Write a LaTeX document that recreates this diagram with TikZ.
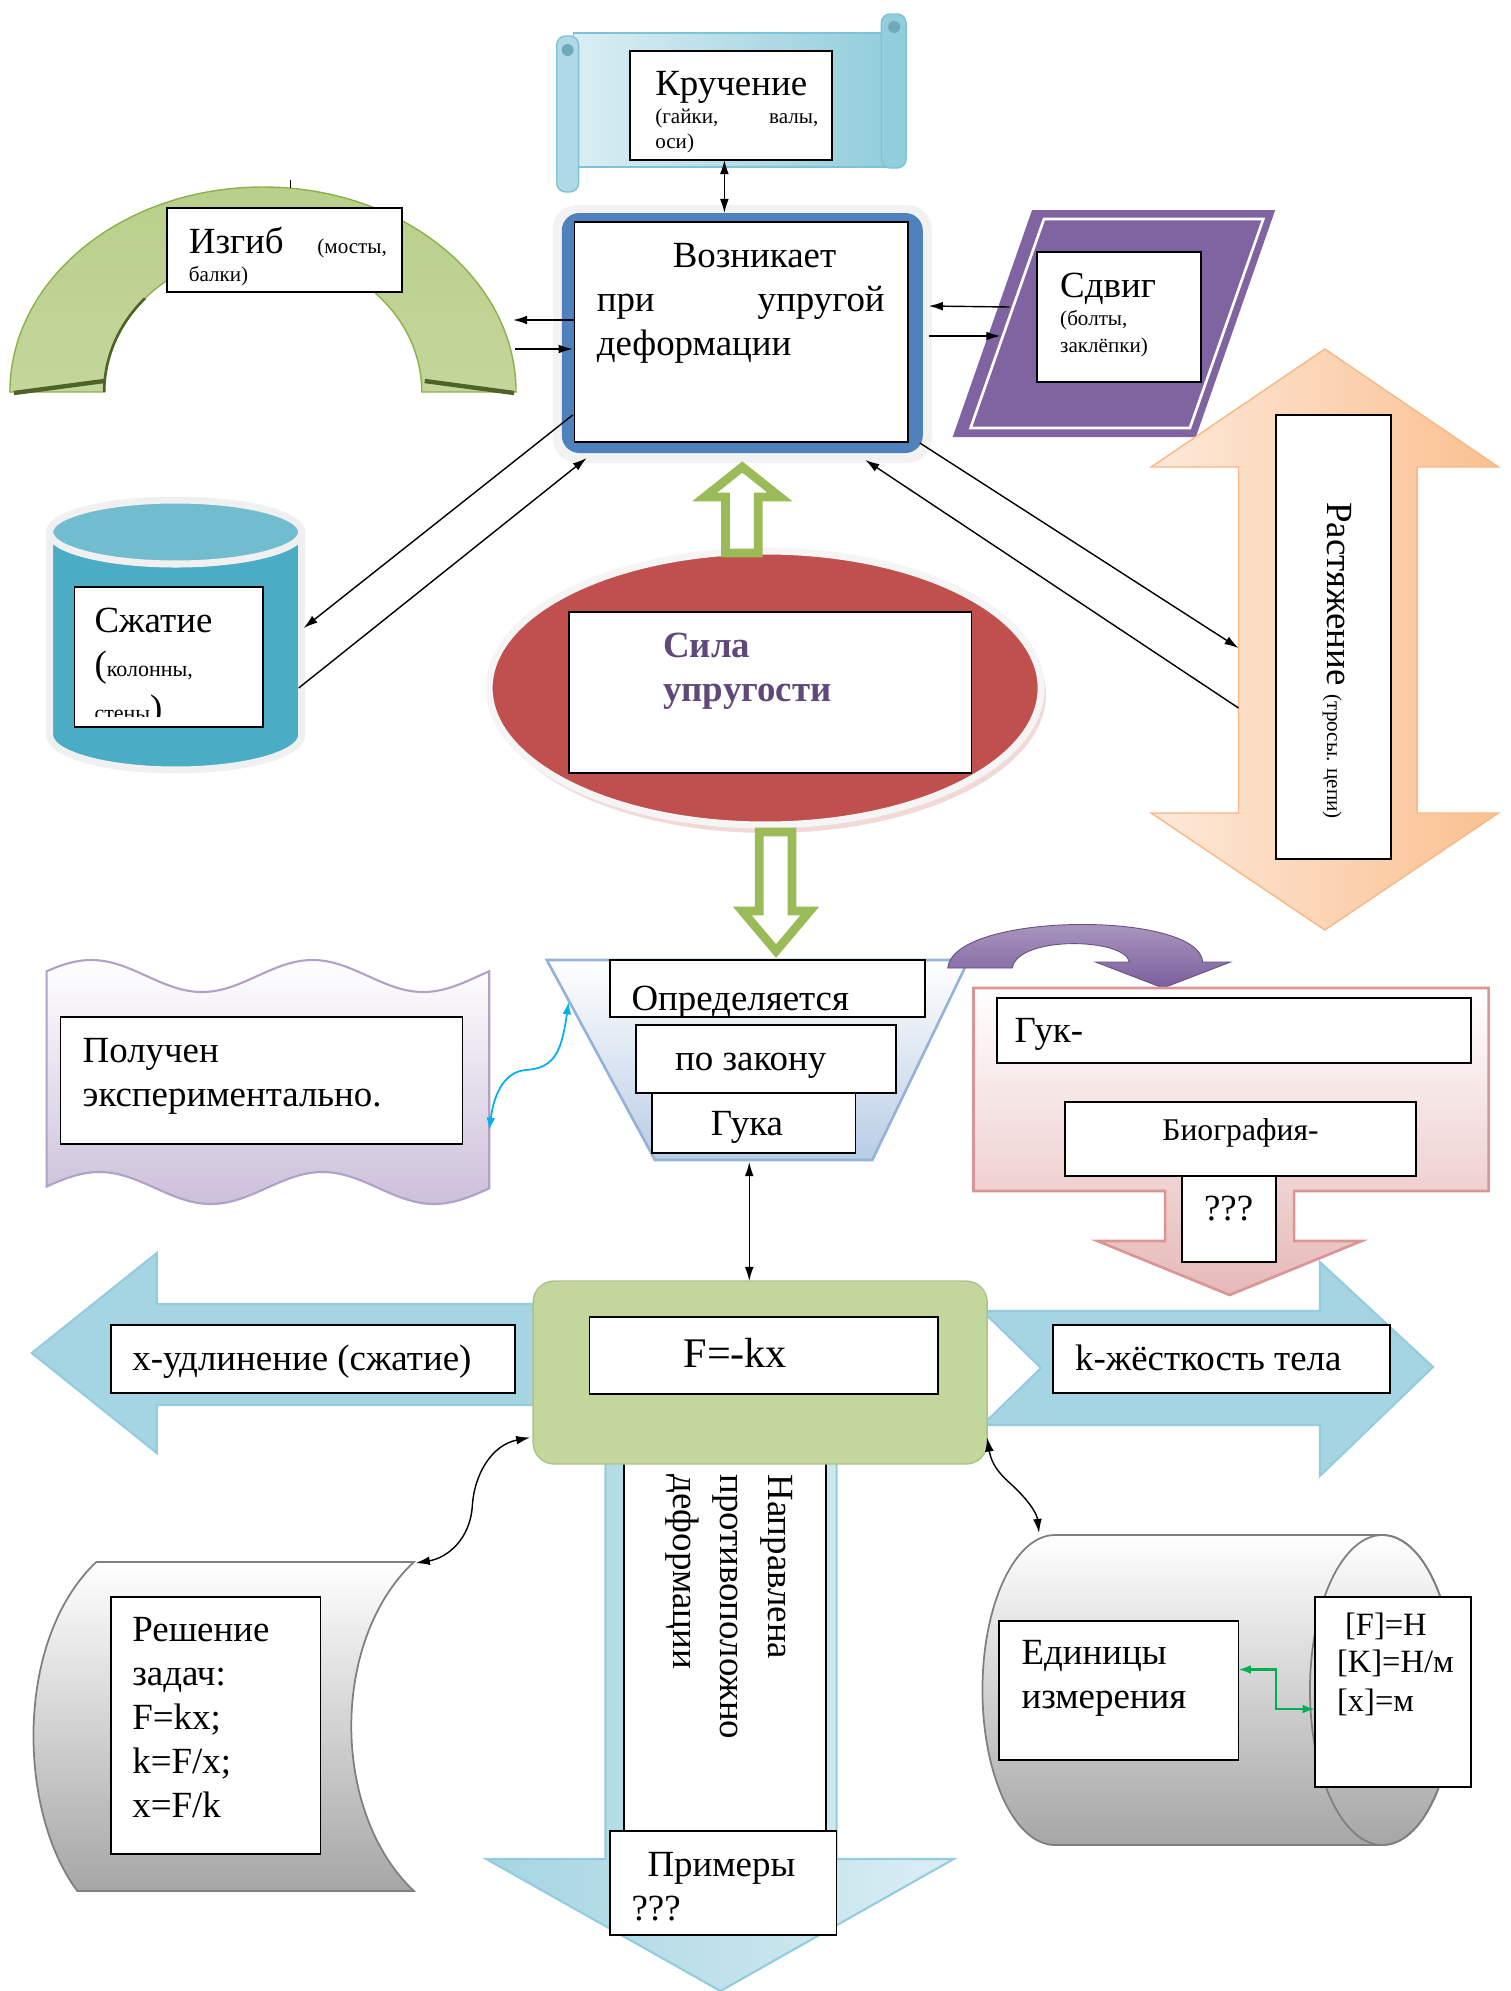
\documentclass[tikz,border=0pt]{standalone}
\usepackage{fontspec}
\setmainfont{Liberation Serif}
\usetikzlibrary{arrows.meta,calc,shapes.geometric}
\definecolor{scrA}{HTML}{DAEEF3}
\definecolor{scrB}{HTML}{92CDDC}
\definecolor{scrC}{HTML}{31859C}
\definecolor{scrE}{HTML}{7FC3D6}
\definecolor{mainblue}{HTML}{4F81BD}
\definecolor{archB}{HTML}{9BBB59}
\definecolor{archD}{HTML}{4F6228}
\definecolor{archE}{HTML}{8EB04C}
\definecolor{purp}{HTML}{8064A2}
\definecolor{purpA}{HTML}{B3A2C7}
\definecolor{purpB}{HTML}{7A5F9C}
\definecolor{peachA}{HTML}{FDE9D9}
\definecolor{peachB}{HTML}{FAC090}
\definecolor{peachE}{HTML}{F8B784}
\definecolor{cylA}{HTML}{4BACC6}
\definecolor{cylT}{HTML}{72BCD0}
\definecolor{ellred}{HTML}{C0504D}
\definecolor{silaC}{HTML}{5F497A}
\definecolor{arrG}{HTML}{9BBB59}
\definecolor{trapB}{HTML}{B9CDE5}
\definecolor{trapE}{HTML}{95B3D7}
\definecolor{wavB}{HTML}{CCC0DA}
\definecolor{wavE}{HTML}{B2A1C7}
\definecolor{pinkB}{HTML}{E6B9B8}
\definecolor{pinkE}{HTML}{D99694}
\definecolor{lblueA}{HTML}{DBEEF4}
\definecolor{lblueB}{HTML}{A5D5E2}
\definecolor{lblueE}{HTML}{93CDDD}
\definecolor{fgreenA}{HTML}{EBF1DE}
\definecolor{fgreenB}{HTML}{C3D69B}
\definecolor{grayB}{HTML}{A6A6A6}
\definecolor{grayE}{HTML}{7F7F7F}
\definecolor{cyanarr}{HTML}{00B0F0}
\definecolor{greenarr}{HTML}{00B050}
\newcommand\bfnt{\fontsize{21}{25}\selectfont}
\newcommand\sfnt{\fontsize{12}{14}\selectfont}
\newcommand\tbox[5]{\node[tbox, minimum width={(#4-#2)*0.019851cm}, minimum height={(#5-#3)*0.02cm}] (#1) at ({(#2+#4)/2},{(#3+#5)/2}) {};}
\begin{document}
\begin{tikzpicture}[x=0.019851cm, y=-0.02cm,
  tbox/.style={draw=black, fill=white, line width=1pt, inner sep=0pt, outer sep=0pt, rectangle},
  txt/.style={inner sep=0pt, align=left, font=\bfnt},
  ltxt/.style={inner sep=0pt, font=\bfnt},
  conn/.style={line width=0.8pt, -{Latex[length=8pt,width=5pt]}},
  dconn/.style={line width=0.8pt, {Latex[length=8pt,width=5pt]}-{Latex[length=8pt,width=5pt]}},
  hollow/.style={fill=white, draw=arrG, line width=5pt, line join=miter}
]
\useasboundingbox (0,0) rectangle (1522.3,1991);

% ---------- Кручение scroll
\path[draw=scrE, line width=0.8pt, left color=scrA, right color=scrB] (578,33) rectangle (900,167);
\path[draw=scrE, line width=0.8pt, fill=scrB, rounded corners=5pt] (888,14) rectangle (913,168);
\path[draw=scrE, line width=0.8pt, fill=scrA!40!scrB, rounded corners=5pt] (561,36) rectangle (583,192);
\path[fill=scrC!70] (901,27) circle[radius=6];
\path[fill=scrC!70] (572,50) circle[radius=6];
\tbox{kruchbox}{635}{51}{838}{160}
\node[txt, anchor=north west, text width=3.26cm] (kruchtxt) at (660,71) {Кручение\\[-9pt]{\sfnt(гайки,\hfill валы,}\\[-11pt]{\sfnt оси)}};

% ---------- Main box
\path[fill=gray!10, rounded corners=14pt] (557,205) rectangle (939,463);
\node[fill=mainblue, rounded corners=10pt, minimum width=361*0.02cm, minimum height=240*0.02cm, inner sep=0pt, outer sep=0pt] (mainbox) at (748,333) {};
\tbox{mainin}{579}{222}{915}{442}
\node[txt, anchor=north west, text width=5.76cm] (maintxt) at (601,243) {\hspace*{1.52cm}Возникает\\при\hfill упругой\\деформации};

% ---------- Arch (Изгиб)
\path[draw=archE, line width=0.8pt, top color=archB!70!white, middle color=archB, bottom color=archB!60!white] (10,392) arc[start angle=180, end angle=360, x radius=255, y radius=205] -- (425,392) arc[start angle=0, end angle=-180, x radius=160, y radius=140] -- cycle;
\draw[archD, line width=2.5pt] (14,393) -- (105,381);
\draw[archD, line width=2.5pt] (428,381) -- (518,393);
\draw[archD, line width=1.5pt] (105,392) arc[start angle=180, end angle=222, x radius=160, y radius=140];
\draw[line width=0.6pt] (293,180) -- (293,188);
\tbox{izgbox}{168}{208}{405}{292}
\node[txt, anchor=north west, text width=3.96cm] (izgtxt) at (190,227) {Изгиб\hfill{\sfnt(мосты,}\\[-9pt]{\sfnt балки)}};
\coordinate (arch1) at (517,320);
\coordinate (arch2) at (519,349);

% ---------- Сдвиг
\path[fill=purp] (1040,210) -- (1285,210) -- (1205,437) -- (960,437) -- cycle;
\path[draw=white, line width=1.5pt] (1052,219) -- (1273,219) -- (1199,428) -- (978,428) -- cycle;
\tbox{sdvbox}{1045}{252}{1210}{382}
\node[txt, anchor=north west] (sdvtxt) at (1068,273) {Сдвиг\\[-9pt]{\sfnt(болты,}\\[-10pt]{\sfnt заклёпки)}};
\coordinate (sdv1) at (1017,307);
\coordinate (sdv2) at (1008,336);

% ---------- Растяжение
\path[draw=peachE, line width=0.8pt, left color=peachA, right color=peachB] (1335,349) -- (1510,467) -- (1428,467) -- (1428,813) -- (1510,813) -- (1335,930) -- (1160,813) -- (1248,813) -- (1248,467) -- (1160,467) -- cycle;
\tbox{rastbox}{1286}{415}{1402}{859}
\node[ltxt, rotate=-90, anchor=north west] (rasttxt) at (1362,502) {Растяжение {\fontsize{12}{14}\selectfont(тросы. цепи)}};
\coordinate (rast1) at (1248,648);
\coordinate (rast2) at (1248,708);

% ---------- Сжатие cylinder
\path[fill=cylA, draw=gray!12, line width=4pt] (50,532) -- (50,735) arc[start angle=180, end angle=0, x radius=127, y radius=35] -- (304,532) -- cycle;
\path[fill=cylT, draw=gray!12, line width=4pt] (177,532) ellipse[x radius=127, y radius=32];
\tbox{szhbox}{75}{587}{265}{727}
\begin{scope}
\clip (76,588) rectangle (264,716);
\node[txt, anchor=north west] (szhtxt) at (95,608) {Сжатие\\({\fontsize{12.5}{14}\selectfont колонны,}\\{\fontsize{12.5}{14}\selectfont стены})};
\end{scope}
\coordinate (szh1) at (306,628);
\coordinate (szh2) at (301,688);

% ---------- Сила упругости
\path[fill=ellred!22!white] (775,694) ellipse[x radius=279, y radius=139];
\node[ellipse, fill=ellred, draw=gray!8, line width=4pt, inner sep=0pt, minimum width=552*0.02cm, minimum height=274*0.02cm] (sila) at (771,688) {};
\tbox{silabox}{573}{612}{979}{773}
\node[txt, anchor=north west, font=\bfnt\bfseries, text=silaC] (silatxt) at (668,633) {Сила\\упругости};

% ---------- hollow green arrows
\path[hollow] (748,467) -- (786,497) -- (764,497) -- (764,553) -- (731,553) -- (731,497) -- (710,497) -- cycle;
\path[hollow] (765,832) -- (798,832) -- (798,911) -- (816,911) -- (782,951) -- (748,911) -- (765,911) -- cycle;

% ---------- Trapezoid
\path[draw=trapE, line width=1.5pt, top color=white, bottom color=trapB] (551,960) -- (976,960) -- (879,1160) -- (660,1160) -- cycle;
\tbox{opbox}{615}{960}{932}{1017}
\tbox{zakbox}{641}{1025}{903}{1093}
\tbox{gukabox}{657}{1093}{862}{1153}
\node[ltxt, anchor=base west] (optxt) at (636,1010) {Определяется};
\node[ltxt, anchor=base west] (zaktxt) at (680,1070) {по закону};
\node[ltxt, anchor=base west] (gukatxt) at (716,1135) {Гука};
\coordinate (trapL) at (573,1002);
\coordinate (trapB) at (755,1162);

% ---------- Wavy banner
\path[draw=wavE, line width=1.2pt, top color=white, bottom color=wavB]
  plot[domain=47:493, samples=60, smooth] (\x, {976-16*cos((\x-92)/223*360)})
  -- plot[domain=493:47, samples=60, smooth] (\x, {1188-16*cos((\x-100)/225*360)}) -- cycle;
\tbox{polbox}{61}{1017}{466}{1144}
\node[txt, anchor=north west] (poltxt) at (83,1038) {Получен\\экспериментально.};
\coordinate (polR) at (493,1130);

% ---------- Purple curved arrow
\path[draw=purp!80!black, line width=0.5pt, top color=purpA, bottom color=purpB] (955,968) .. controls (960,912) and (1208,910) .. (1212,962) -- (1240,962) -- (1172,988) -- (1104,962) -- (1138,962) .. controls (1134,938) and (1026,935) .. (1020,968) -- cycle;

% ---------- Pink box with arrow
\path[draw=pinkE, line width=1.5pt, top color=white, bottom color=pinkB] (981,988) -- (1500,988) -- (1500,1191) -- (1304,1191) -- (1304,1241) -- (1372,1241) -- (1239,1295) -- (1106,1241) -- (1174,1241) -- (1174,1191) -- (981,1191) -- cycle;
\tbox{gukbox}{1005}{998}{1482}{1063}
\tbox{biobox}{1073}{1102}{1427}{1176}
\tbox{qbox}{1191}{1176}{1286}{1262}
\node[ltxt, anchor=base west] (guktxt) at (1022,1042) {Гук-};
\node[ltxt, anchor=base, font=\fontsize{18}{22}\selectfont] (biotxt) at (1250,1140) {Биография-};
\node[ltxt, anchor=base] (qtxt) at (1238,1220) {???};

% ---------- Horizontal light-blue arrows
\path[draw=lblueE, line width=1.2pt, left color=lblueB, middle color=lblueA, right color=lblueB] (32,1353) -- (158,1253) -- (158,1304) -- (560,1304) -- (560,1405) -- (158,1405) -- (158,1453) -- cycle;
\path[draw=lblueE, line width=1.2pt, left color=lblueB, middle color=lblueA, right color=lblueB] (990,1311) -- (1330,1311) -- (1330,1262) -- (1444,1367) -- (1330,1476) -- (1330,1425) -- (990,1425) -- (1049,1368) -- cycle;
\tbox{xbox}{112}{1325}{519}{1393}
\tbox{kbox}{1061}{1325}{1401}{1393}
\node[ltxt, anchor=base west] (xtxt) at (133,1370) {x-удлинение (сжатие)};
\node[ltxt, anchor=base west] (ktxt) at (1083,1370) {k-жёсткость тела};

% ---------- Down light-blue arrow
\path[draw=lblueE, line width=1.2pt, left color=lblueB, right color=lblueA] (610,1440) -- (843,1440) -- (843,1859) -- (961,1859) -- (726,1991) -- (490,1859) -- (610,1859) -- cycle;
\tbox{naprbox}{629}{1462}{832}{1831}
\node[txt, rotate=-90, anchor=north west] (naprtxt) at (799,1474) {Направлена\\[2pt]противоположно\\[2pt]деформации};
\tbox{primbox}{615}{1831}{843}{1935}
\node[txt, anchor=north west] (primtxt) at (636,1852) {\hspace*{0.32cm}Примеры\\???};

% ---------- Green F box
\node[rounded corners=12pt, draw=fgreenB!90!black, line width=0.8pt, top color=fgreenB, middle color=fgreenA, bottom color=fgreenB, shading angle=-45, minimum width=454*0.02cm, minimum height=183*0.02cm, inner sep=0pt, outer sep=0pt] (fgreen) at (766,1372.5) {};
\tbox{fbox}{594}{1317}{945}{1394}
\node[ltxt, anchor=base, font=\fontsize{24}{28}\selectfont] (ftxt) at (741,1367) {F=-kx};

% ---------- Решение shape
\path[draw=grayE, line width=1pt, top color=white, bottom color=grayB] (97,1562) -- (417,1562) .. controls (333,1640) and (333,1812) .. (417,1891) -- (78,1891) .. controls (18,1812) and (14,1640) .. (97,1562) -- cycle;
\tbox{reshbox}{112}{1597}{323}{1854}
\node[txt, anchor=north west] (reshtxt) at (133,1617) {Решение\\задач:\\F=kx;\\k=F/x;\\x=F/k};
\coordinate (reshTR) at (419,1563);

% ---------- Horizontal cylinder
\path[draw=grayE, line width=1pt, top color=white, bottom color=grayB] (1063,1535) -- (1393,1535) arc[start angle=-90, end angle=90, x radius=73, y radius=155] -- (1063,1845) arc[start angle=90, end angle=270, x radius=73, y radius=155] -- cycle;
\draw[grayE, line width=1pt] (1393,1690) ellipse[x radius=73, y radius=155];
\tbox{edbox}{1007}{1621}{1248}{1760}
\tbox{unitbox}{1325}{1597}{1482}{1787}
\node[txt, anchor=north west] (edtxt) at (1029,1640) {Единицы\\измерения};
\node[txt, anchor=north west, font=\fontsize{18.5}{22}\selectfont] (unittxt) at (1347,1613) {\hspace*{0.16cm}[F]=Н\\[-1pt][K]=Н/м\\[0pt][x]=м};
\coordinate (cylT) at (1047,1533);

% ---------- Connectors
\draw[dconn] ([xshift=-0.13cm]kruchbox.south) -- ([xshift=-0.13cm]kruchbox.south |- mainbox.north);
\draw[conn] ($(mainin.west)+(0,-12)$) -- (arch1);
\draw[conn] (arch2) -- ($(mainin.west)+(-2,17)$);
\draw[conn] (sdv1) -- ($(mainbox.east)+(6,-27)$);
\draw[conn] ($(mainbox.east)+(6,3)$) -- (sdv2);
\draw[conn] ($(mainbox.south east)+(-3,-10)$) -- (rast1);
\draw[conn] (rast2) -- ($(mainbox.south)+(124,7)$);
\draw[conn] ($(mainbox.south west)+(11,-38)$) -- (szh1);
\draw[conn] (szh2) -- ($(mainbox.south west)+(25,5)$);
\draw[dconn] (trapB) -- (trapB |- fgreen.north);
\draw[cyanarr, line width=1pt, {Latex[length=7pt,width=5pt]}-{Latex[length=7pt,width=5pt]}] (trapL) .. controls (566,1050) and (560,1068) .. (530,1070) .. controls (505,1072) and (497,1100) .. (polR);
\draw[dconn] ($(fgreen.west)+(-3,65)$) .. controls (495,1445) and (478,1475) .. (476,1505) .. controls (474,1540) and (450,1558) .. (reshTR);
\draw[dconn] ($(fgreen.east)+(0,65)$) .. controls (1000,1470) and (1015,1480) .. (1025,1490) .. controls (1040,1505) and (1045,1515) .. (cylT);
\draw[greenarr, line width=1.2pt, {Latex[length=7pt,width=5pt]}-{Latex[length=7pt,width=5pt]}] ($(edbox.east)+(0,-21)$) -- ++(38,0) |- ($(unitbox.west)+(0,17)$);
\end{tikzpicture}
\end{document}
